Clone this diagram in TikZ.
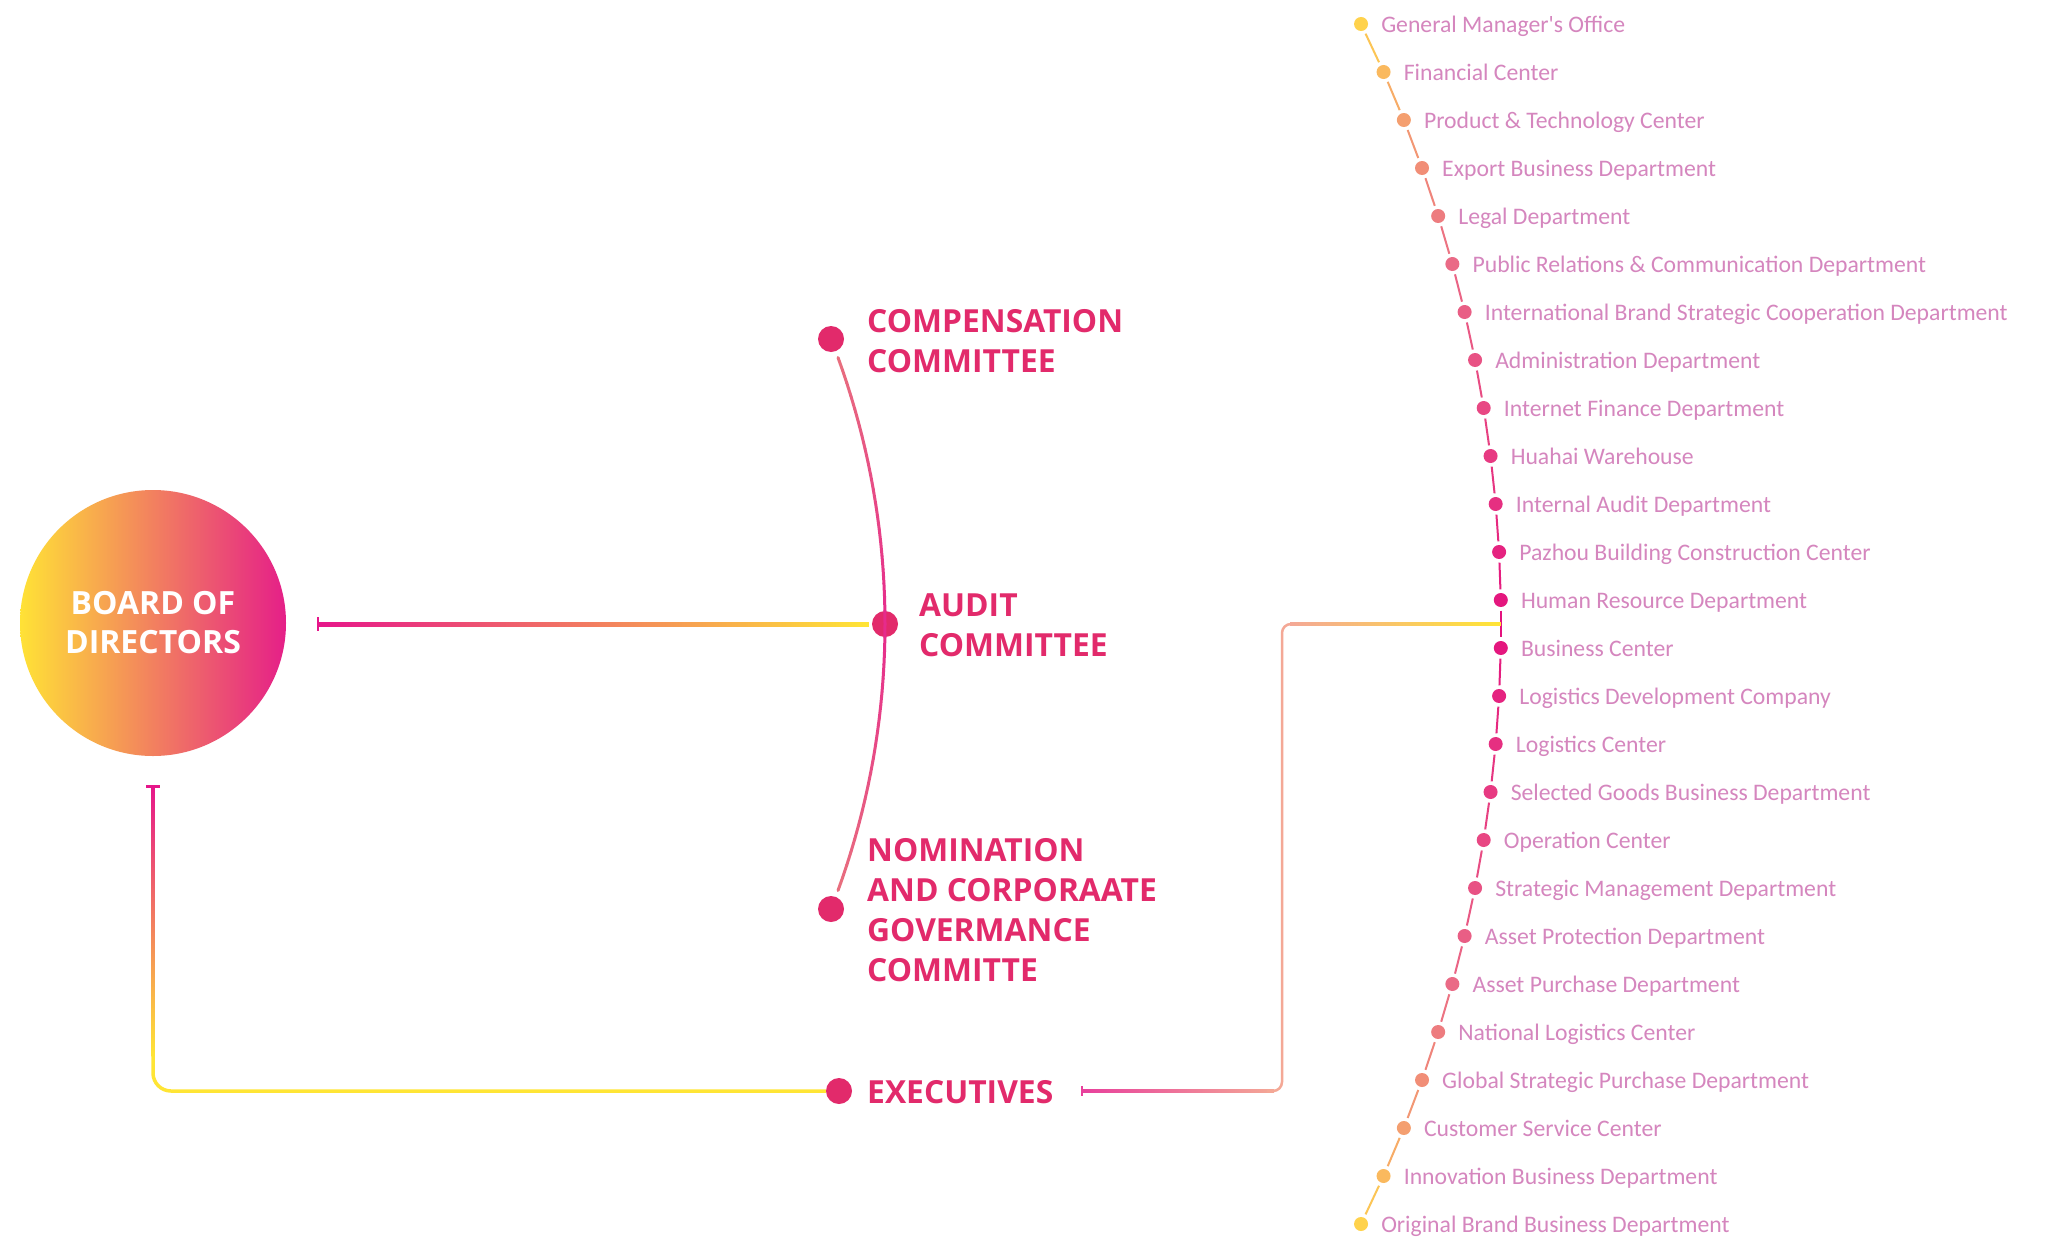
\documentclass[tikz,border=0pt]{standalone}
\usepackage{fontspec}
\usetikzlibrary{calc}
\newfontfamily\headfont{Open Sans}
\newfontfamily\deptfont{Carlito}

\definecolor{headpink}{HTML}{E22A6B}
\definecolor{depttext}{HTML}{D586BE}
\definecolor{cyellow}{HTML}{FFE535}
\definecolor{csalmon}{HTML}{F2A083}
\definecolor{cmagenta}{HTML}{E6168A}
\definecolor{bdyellow}{HTML}{FFE236}
\definecolor{bdsalmon}{HTML}{F0A084}
\definecolor{bdmagenta}{HTML}{E51F88}
\definecolor{expink}{HTML}{E8409C}
\definecolor{exsalmon}{HTML}{F4A896}
\definecolor{ds0}{HTML}{E4127E}
\definecolor{ds1}{HTML}{EA6A86}
\definecolor{ds2}{HTML}{F4A070}
\definecolor{ds3}{HTML}{FFD24C}
\definecolor{arcend}{HTML}{E8707E}
\definecolor{arcmid}{HTML}{E62A8C}

% colour along the department chain: t=0 in the middle, t=1 at both ends
\newcommand\setgrad[2]{%
  \pgfmathtruncatemacro\gpa{100*min(1,max(0,#1/0.6))}%
  \pgfmathtruncatemacro\gpb{100*min(1,max(0,(#1-0.6)/0.24))}%
  \pgfmathtruncatemacro\gpc{100*min(1,max(0,(#1-0.84)/0.16))}%
  \colorlet{gtmpA}{ds1!\gpa!ds0}%
  \colorlet{gtmpB}{ds2!\gpb!gtmpA}%
  \colorlet{#2}{ds3!\gpc!gtmpB}}

\begin{document}
\begin{tikzpicture}[x=1pt,y=-1pt,
  board/.style={circle, minimum size=266pt, inner sep=0pt,
    left color=bdyellow, middle color=bdsalmon, right color=bdmagenta,
    text=white, align=center, font=\headfont\bfseries\fontsize{32}{39}\selectfont},
  cdot/.style={circle, fill=headpink, minimum size=26pt, inner sep=0pt},
  head/.style={anchor=north west, inner sep=0pt, text=headpink, align=left,
    font=\headfont\bfseries\fontsize{31.8}{40}\selectfont},
  ddot/.style={circle, minimum size=14pt, inner sep=0pt},
  dept/.style={anchor=base west, inner sep=0pt, text=depttext,
    font=\deptfont\fontsize{23.7}{28}\selectfont},
  tbar/.style={line width=2.5pt},
]
\fill[white] (0,0) rectangle (2050,1239);
\useasboundingbox (0,0) rectangle (2050,1239);

% board
\node[board] (board) at (153,623) {BOARD OF\\DIRECTORS};

% committees and executives
\node[cdot] (comp)  at (831,339) {};
\node[cdot] (audit) at (885,624) {};
\node[cdot] (nom)   at (831,909) {};
\node[cdot] (exec)  at (839,1091) {};
\node[head] (compT)  at (867,309)  {COMPENSATION\\COMMITTEE};
\node[head] (auditT) at (919,593)  {AUDIT\\COMMITTEE};
\node[head] (nomT)   at (867,838)  {NOMINATION\\AND CORPORAATE\\GOVERMANCE\\COMMITTE};
\node[head] (execT)  at (867,1080) {EXECUTIVES};

% departments on an arc
\foreach \name [count=\i] in {
  {General Manager's Office}, {Financial Center}, {Product \& Technology Center},
  {Export Business Department}, {Legal Department},
  {Public Relations \& Communication Department},
  {International Brand Strategic Cooperation Department},
  {Administration Department}, {Internet Finance Department}, {Huahai Warehouse},
  {Internal Audit Department}, {Pazhou Building Construction Center},
  {Human Resource Department}, {Business Center}, {Logistics Development Company},
  {Logistics Center}, {Selected Goods Business Department}, {Operation Center},
  {Strategic Management Department}, {Asset Protection Department},
  {Asset Purchase Department}, {National Logistics Center},
  {Global Strategic Purchase Department}, {Customer Service Center},
  {Innovation Business Department}, {Original Brand Business Department}} {
  \pgfmathsetmacro\dyy{(\i-13.5)*48}
  \pgfmathsetmacro\dxx{145+100*sqrt(183.8736-(\dyy/100)^2)}
  \pgfmathsetmacro\tt{abs(\i-13.5)/12.5}
  \setgrad{\tt}{dcol}
  \node[ddot, fill=dcol] (p\i) at (\dxx,624+\dyy) {};
  \node[dept] (d\i) at ($(p\i)+(20,8.5)$) {\name};
}

% chain between departments
\foreach \i in {1,...,25} {
  \pgfmathtruncatemacro\j{\i+1}
  \pgfmathsetmacro\tt{abs(\i-13)/12.5}
  \setgrad{\tt}{scol}
  \draw[color=scol, line width=2pt, shorten <=3.5pt, shorten >=3.5pt] (p\i) -- (p\j);
}

% committee arc
\coordinate (arcC) at ($(audit)+(-779,0)$);
\foreach \k in {0,...,39} {
  \pgfmathsetmacro\aa{-20+\k}
  \pgfmathsetmacro\ab{-19+\k}
  \pgfmathtruncatemacro\pp{100*abs(\aa+0.5)/20}
  \draw[color=arcend!\pp!arcmid, line width=3pt, line cap=round]
    ($(arcC)+({779*cos(\aa)},{779*sin(\aa)})$) -- ($(arcC)+({779*cos(\ab)},{779*sin(\ab)})$);
}

% board <- audit committee
\coordinate (auT) at (318,624);
\shade[left color=cmagenta, middle color=csalmon, right color=cyellow]
  ($(auT)+(0,-2)$) rectangle ($(audit.west)+(-3,2)$);
\draw[cmagenta, tbar] ($(auT)+(0,-7)$) -- ($(auT)+(0,7)$);

% board <- executives
\coordinate (bdT) at ($(board.south)+(0,30)$);
\draw[cyellow, line width=3.5pt, rounded corners=18pt] ($(bdT)+(0,200)$) |- (exec.west);
\shade[top color=cmagenta, middle color=csalmon, bottom color=cyellow]
  ($(bdT)+(-1.5,0)$) rectangle ($(bdT)+(1.5,270)$);
\draw[cmagenta, line width=3pt] ($(bdT)+(-7,0)$) -- ($(bdT)+(7,0)$);

% executives -> departments
\coordinate (exT) at (1082,1091);
\coordinate (hub) at ($(p13)!0.5!(p14)$);
\shade[left color=expink, right color=exsalmon]
  ($(exT)+(0,-1.25)$) rectangle ($(exT)+(192,1.25)$);
\draw[exsalmon, line width=2.5pt, rounded corners=9pt]
  ($(exT)+(185,0)$) -| ($(exT |- hub)+(200,0)$) -- ($(exT |- hub)+(215,0)$);
\shade[left color=exsalmon, right color=cyellow]
  ($(exT |- hub)+(208,-1.25)$) rectangle ($(hub)+(0,1.25)$);
\draw[expink, line width=2pt] ($(exT)+(0,-5)$) -- ($(exT)+(0,5)$);
\end{tikzpicture}
\end{document}
